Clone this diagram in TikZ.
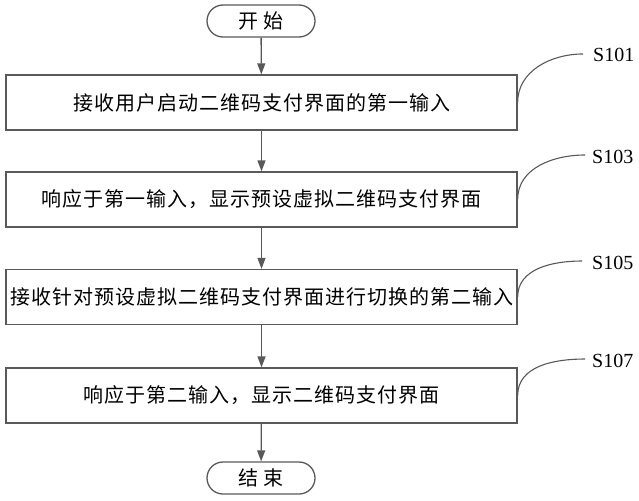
\documentclass[tikz,border=0pt]{standalone}
\usepackage{fontspec}
\setmainfont{Liberation Serif}
\newfontfamily\cjk[LetterSpace=5]{Noto Sans CJK SC}
\usetikzlibrary{arrows.meta, positioning, calc}

\begin{document}
\begin{tikzpicture}[x=1pt, y=-1pt,
    stepbox/.style={draw=black!65, line width=1.3pt, minimum width=511pt, minimum height=55pt, inner sep=0pt, font=\cjk\fontsize{20}{20}\selectfont},
    termbox/.style={draw=black!65, line width=1.3pt, rounded corners=16pt, minimum width=108pt, minimum height=32pt, inner sep=0pt, font=\cjk\fontsize{20}{20}\selectfont},
    flow/.style={draw=black!65, line width=1.3pt, -{Triangle[length=11pt, width=8pt]}},
    tag/.style={anchor=west, inner sep=0pt, font=\fontsize{20}{20}\selectfont},
    lead/.style={draw=black!65, line width=1.1pt}]
  \useasboundingbox (0,0) rectangle (639,500);

  % Terminals
  \node[termbox] (start) at (261,21) {开\hspace{5pt}始};
  \node[termbox] (stop) at (261,478) {结\hspace{5pt}束};

  % Steps
  \node[stepbox] (s101) at (261.5,102.5) {接收用户启动二维码支付界面的第一输入};
  \node[stepbox] (s103) at (261.5,199.5) {响应于第一输入，显示预设虚拟二维码支付界面};
  \node[stepbox] (s105) at (261.5,297) {接收针对预设虚拟二维码支付界面进行切换的第二输入};
  \node[stepbox] (s107) at (261.5,395.5) {响应于第二输入，显示二维码支付界面};

  % Flow
  \draw[flow] (start) -- (s101);
  \draw[flow] (s101) -- (s103);
  \draw[flow] (s103) -- (s105);
  \draw[flow] (s105) -- (s107);
  \draw[flow] (s107) -- (stop);

  % Step labels
  \node[tag] (t101) at (593,55) {S101};
  \node[tag] (t103) at (592,157) {S103};
  \node[tag] (t105) at (592,263) {S105};
  \node[tag] (t107) at (592,361) {S107};
  \coordinate (e101) at (583,54);
  \coordinate (e103) at (585,155);
  \coordinate (e105) at (582,261);
  \coordinate (e107) at (585,359);
  \draw[lead] (s101.east) to[out=90, in=180] (e101);
  \draw[lead] (s103.east) to[out=90, in=180] (e103);
  \draw[lead] (s105.east) to[out=90, in=180] (e105);
  \draw[lead] (s107.east) to[out=90, in=180] (e107);
\end{tikzpicture}
\end{document}
